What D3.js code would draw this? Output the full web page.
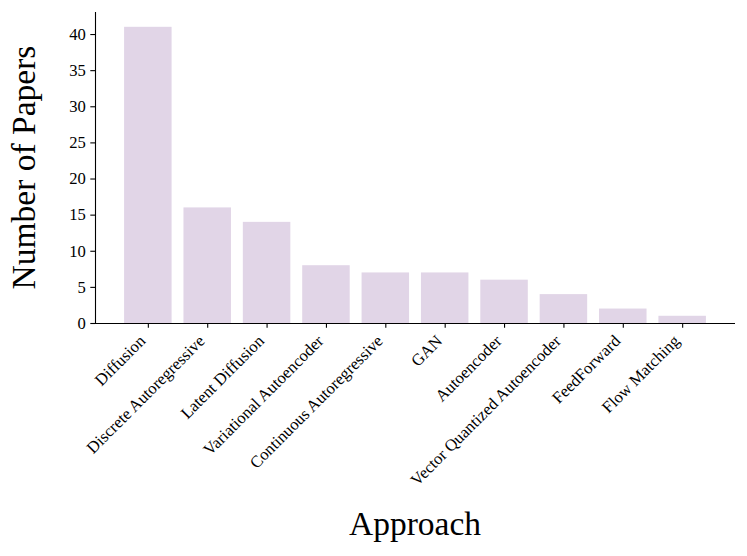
<!DOCTYPE html>
<html>
<head>
<meta charset="utf-8">
<script src="https://cdn.jsdelivr.net/npm/d3@7"></script>
<style>
  html, body { margin: 0; padding: 0; background: #fff; }
  svg { display: block; font-family: "Liberation Serif", "Times New Roman", Times, serif; }
</style>
</head>
<body>
<svg id="chart" width="747" height="556"></svg>
<script>
const categories = ["Diffusion", "Discrete Autoregressive", "Latent Diffusion", "Variational Autoencoder",
  "Continuous Autoregressive", "GAN", "Autoencoder", "Vector Quantized Autoencoder", "FeedForward", "Flow Matching"];
const values = [41, 16, 14, 8, 7, 7, 6, 4, 2, 1];
const yTicks = [0, 5, 10, 15, 20, 25, 30, 35, 40];
const xTitle = "Approach";
const yTitle = "Number of Papers";

(function () {
const svg = d3.select("#chart");
const mLeft = 95, mRight = 735, mTop = 12, mBottom = 323;
const barColor = "#e1d5e7";
const font = "'Liberation Serif', 'Times New Roman', serif";

// matplotlib-like continuous x with 5% margins
const n = categories.length;
const span = (n - 1) + 0.8;
const xmin = -0.4 - 0.05 * span, xmax = (n - 1) + 0.4 + 0.05 * span;
const x = d3.scaleLinear().domain([xmin, xmax]).range([mLeft, mRight]);
const ymax = d3.max(values) * 1.05;
const y = d3.scaleLinear().domain([0, ymax]).range([mBottom, mTop]);

// bars
svg.append("g").selectAll("rect").data(values).join("rect")
  .attr("x", (d, i) => x(i - 0.4))
  .attr("width", (d, i) => x(i + 0.4) - x(i - 0.4))
  .attr("y", d => y(d))
  .attr("height", d => y(0) - y(d))
  .attr("fill", barColor);

// y axis
const yAxis = d3.axisLeft(y).tickValues(yTicks).tickSize(4.7).tickPadding(4.5).tickFormat(d3.format("d"));
const gy = svg.append("g").attr("transform", `translate(${mLeft},0)`).call(yAxis)
  .attr("font-size", 16.6).attr("font-family", font);
gy.select(".domain").attr("stroke", "#000").attr("stroke-width", 1.1).attr("d", `M0.5,${mTop}V${mBottom}`);
gy.selectAll(".tick line").attr("stroke", "#000").attr("stroke-width", 1.1);
gy.selectAll(".tick text").attr("fill", "#000");

// x axis
const xAxis = d3.axisBottom(x).tickValues(d3.range(n)).tickSize(4.7).tickFormat(i => categories[i]);
const gx = svg.append("g").attr("transform", `translate(0,${mBottom})`).call(xAxis)
  .attr("font-size", 16.6).attr("font-family", font);
gx.select(".domain").attr("stroke", "#000").attr("stroke-width", 1.1).attr("d", `M${mLeft},0.5H${mRight}`);
gx.selectAll(".tick line").attr("stroke", "#000").attr("stroke-width", 1.1);
gx.selectAll(".tick text")
  .attr("fill", "#000")
  .attr("text-anchor", "end")
  .attr("dy", null)
  .attr("y", 0)
  .attr("transform", "translate(-2,19) rotate(-45)");

// titles
svg.append("text")
  .attr("x", (mLeft + mRight) / 2).attr("y", 535)
  .attr("text-anchor", "middle").attr("font-size", 33.5).attr("fill", "#000")
  .text(xTitle);
svg.append("text")
  .attr("transform", `translate(35,${(mTop + mBottom) / 2}) rotate(-90)`)
  .attr("text-anchor", "middle").attr("font-size", 33.5).attr("fill", "#000")
  .text(yTitle);
})();
</script>
</body>
</html>
